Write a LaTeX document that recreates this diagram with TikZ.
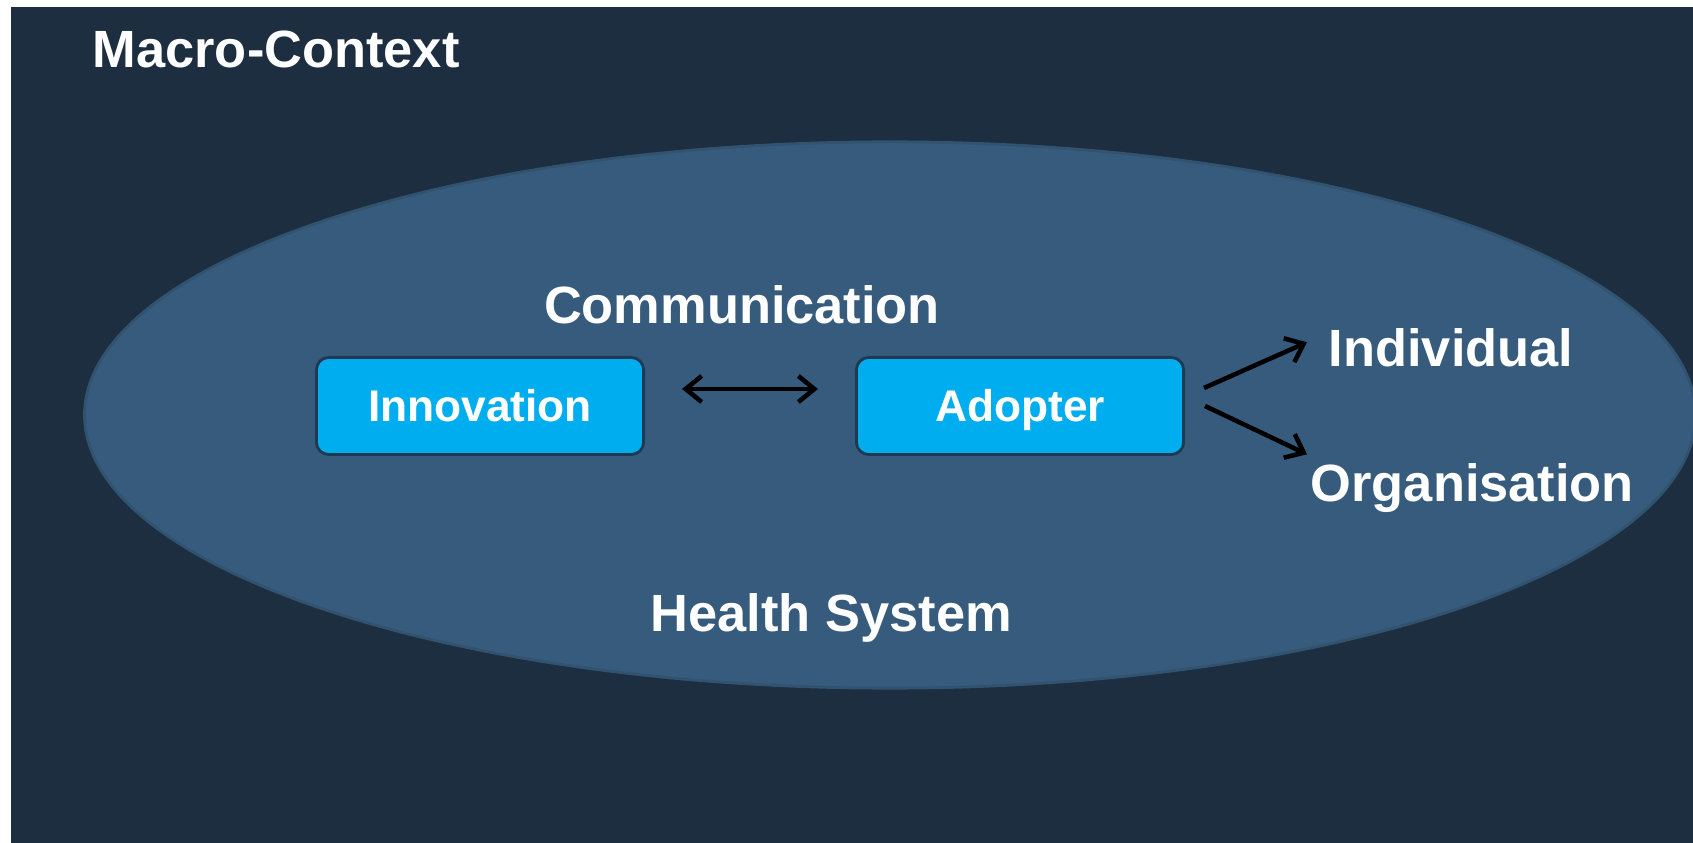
\documentclass[tikz,border=0pt]{standalone}
\usepackage{fontspec}
\setmainfont{Liberation Sans}
\usetikzlibrary{arrows.meta, shapes}

\definecolor{macrobg}{HTML}{1C2E40}
\definecolor{healthbg}{HTML}{365B7C}
\definecolor{healthrim}{HTML}{31536F}
\definecolor{boxfill}{HTML}{00AEEF}
\definecolor{boxline}{HTML}{1E3A52}

\tikzset{
    >={Straight Barb[length=1.6mm, width=2.6mm]},
    box/.style={draw=boxline, line width=0.8pt, fill=boxfill, rounded corners=3.5pt,
        minimum width=3.27cm, minimum height=0.97cm, inner sep=0pt,
        text=white, font=\fontsize{12.6}{15}\selectfont\bfseries, text height=0.86em, text depth=0pt},
    lbl/.style={text=white, font=\fontsize{14.9}{18}\selectfont\bfseries, inner sep=0pt},
    conn/.style={line width=1.3pt, black, ->},
}

\begin{document}
\begin{tikzpicture}[x=0.01cm, y=-0.01cm]

    \useasboundingbox (0,0) rectangle (1693,843);
    \fill[macrobg] (11,7) rectangle (1693,843);
    \filldraw[fill=healthbg, draw=healthrim, line width=0.8pt] (890,415) ellipse [x radius=8.05cm, y radius=2.73cm];

    \node[lbl, anchor=base west] (macro) at (92,68) {Macro-Context};
    \node[lbl, anchor=base] (comm) at (742,324) {Communication};
    \node[lbl, anchor=base west] (indiv) at (1328,367) {Individual};
    \node[lbl, anchor=base west] (org) at (1310,502) {Organisation};
    \node[lbl, anchor=base west] (health) at (650,632) {Health System};

    \node[box] (innov) at (480,406) {Innovation};
    \node[box] (adopter) at (1020,406) {Adopter};

    \draw[conn, <->, shorten <=0.37cm, shorten >=0.37cm] ([yshift=0.17cm]innov.east) -- ([yshift=0.17cm]adopter.west);
    \draw[conn] ([xshift=0.19cm, yshift=0.18cm]adopter.east) -- ([xshift=-0.21cm, yshift=0.06cm]indiv.west);
    \draw[conn] ([xshift=0.2cm]adopter.east) -- ([xshift=-0.03cm, yshift=0.09cm]org.north west);

\end{tikzpicture}
\end{document}
